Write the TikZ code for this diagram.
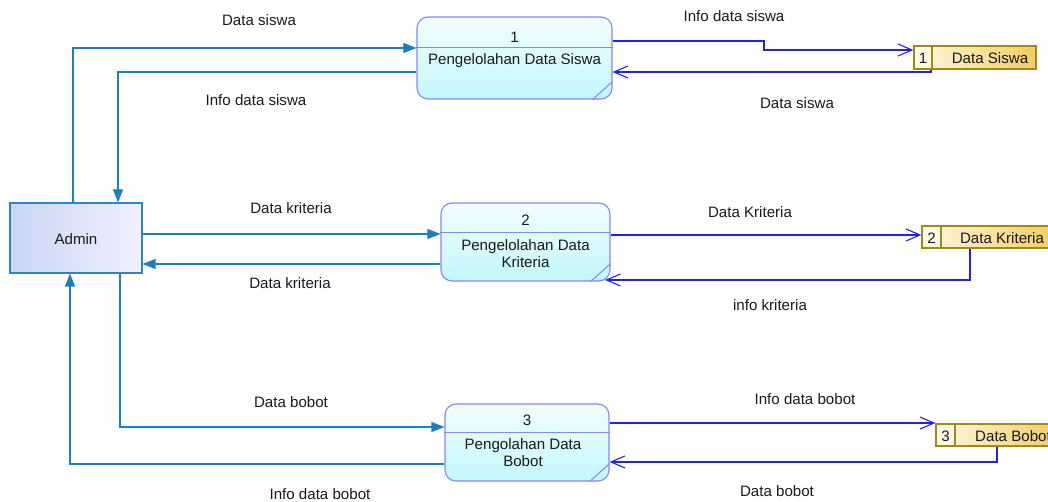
\documentclass[tikz,border=0pt]{standalone}
\usepackage{fontspec}
\setmainfont{Liberation Sans}
\usetikzlibrary{arrows.meta}
\definecolor{entline}{HTML}{2A86C8}
\definecolor{entA}{HTML}{C9D6F4}
\definecolor{entB}{HTML}{F0F0FF}
\definecolor{procline}{HTML}{8585FF}
\definecolor{procA}{HTML}{F4FEFF}
\definecolor{procB}{HTML}{C2F7FB}
\definecolor{storeline}{HTML}{A08A10}
\definecolor{storeA}{HTML}{FFF8E4}
\definecolor{storeB}{HTML}{F2CC64}
\definecolor{leftflow}{HTML}{1C7FC0}
\definecolor{rightflow}{HTML}{2222F0}
\definecolor{txt}{HTML}{1A1A1A}
\begin{document}
\begin{tikzpicture}[x=1pt,y=-1pt,
  every node/.style={font=\fontsize{15.1}{17.5}\selectfont, text=txt, inner sep=0pt},
  entity/.style={draw=entline, line width=1.1pt, left color=entA, right color=entB},
  process/.style={draw=procline, line width=1.1pt, rounded corners=11pt, top color=procA, bottom color=procB},
  procsep/.style={draw=procline, line width=1pt},
  store/.style={draw=storeline, line width=1.2pt, left color=storeA, right color=storeB},
  storenum/.style={draw=storeline, line width=1.2pt, fill=storeA},
  lflow/.style={draw=leftflow, line width=1.1pt, -{Triangle[length=13pt,width=10pt]}},
  rflow/.style={draw=rightflow, line width=1.2pt, -{Straight Barb[length=14pt,width=12pt,line width=1.1pt]}},
  flowlabel/.style={text=txt}
]
\useasboundingbox (0,0) rectangle (1048,502);
\clip (0,0) rectangle (1048,502);

% external entity
\node[entity, minimum width=132pt, minimum height=70pt] (admin) at (76,238) {};
\node (admintxt) at (76,239) {Admin};

% processes
\node[process, minimum width=195pt, minimum height=82pt] (p1) at (514.5,58) {};
\node[process, minimum width=169pt, minimum height=78pt] (p2) at (525.5,242) {};
\node[process, minimum width=164pt, minimum height=77pt] (p3) at (527,442.5) {};
\foreach \p/\d in {p1/31,p2/30,p3/29}{
  \draw[procsep] ([yshift=-\d pt]\p.north west) -- ([yshift=-\d pt]\p.north east);
  \draw[procsep] ([yshift=18pt]\p.south east) -- ([xshift=-20pt]\p.south east);
}
\node (p1num) at (514.5,37) {1};
\node (p1txt) at (514.5,61) {Pengelolahan Data Siswa};
\node (p2num) at (525.5,220) {2};
\node[align=center] (p2txt) at (525.5,253.5) {Pengelolahan Data\\Kriteria};
\node (p3num) at (527,420) {3};
\node[align=center] (p3txt) at (523,452.5) {Pengolahan Data\\Bobot};

% data stores
\node[store, minimum width=122pt, minimum height=23pt] (s1) at (975,57.5) {};
\node[storenum, minimum width=18pt, minimum height=23pt] (s1n) at (923,57.5) {};
\node (s1num) at (923,58) {1};
\node (s1txt) at (990,58) {Data Siswa};

\node[store, minimum width=132pt, minimum height=22pt] (s2) at (988,237) {};
\node[storenum, minimum width=19pt, minimum height=22pt] (s2n) at (931.5,237) {};
\node (s2num) at (931.5,238) {2};
\node (s2txt) at (1002,238) {Data Kriteria};

\node[store, minimum width=122pt, minimum height=22pt] (s3) at (997,435) {};
\node[storenum, minimum width=19pt, minimum height=22pt] (s3n) at (945.5,435) {};
\node (s3num) at (945.5,436) {3};
\node (s3txt) at (1013,436) {Data Bobot};

% flows between Admin and the processes
\draw[lflow] (73,0 |- admin.north) |- (p1.west |- 0,48);
\draw[lflow] (p1.west |- 0,72) -| (118,0 |- admin.north);
\draw[lflow] (admin.east |- 0,234) -- (p2.west |- 0,234);
\draw[lflow] (p2.west |- 0,264) -- (admin.east |- 0,264);
\draw[lflow] (120,0 |- admin.south) |- (p3.west |- 0,427);
\draw[lflow] (p3.west |- 0,464) -| (70,0 |- admin.south);

% flows between the processes and the data stores
\coordinate (p2cut) at (605,280);
\draw[rflow] (p1.east |- 0,41) -| (764,50) -- (s1n.west |- 0,50);
\draw[rflow] (931,0 |- s1.south) |- (p1.east |- 0,72);
\draw[rflow] (p2.east |- 0,235) -- (s2n.west |- 0,235);
\draw[rflow] (970,0 |- s2.south) |- (p2cut);
\draw[rflow] (p3.east |- 0,423) -- (s3n.west |- 0,423);
\draw[rflow] (997,0 |- s3.south) |- (p3.east |- 0,462);

% flow labels
\node[flowlabel] (l1) at (259,20) {Data siswa};
\node[flowlabel] (l2) at (256,100) {Info data siswa};
\node[flowlabel] (l3) at (291,208) {Data kriteria};
\node[flowlabel] (l4) at (290,283) {Data kriteria};
\node[flowlabel] (l5) at (291,402) {Data bobot};
\node[flowlabel] (l6) at (320,494) {Info data bobot};
\node[flowlabel] (r1) at (734,16) {Info data siswa};
\node[flowlabel] (r2) at (797,103) {Data siswa};
\node[flowlabel] (r3) at (750,212) {Data Kriteria};
\node[flowlabel] (r4) at (770,305) {info kriteria};
\node[flowlabel] (r5) at (805,399) {Info data bobot};
\node[flowlabel] (r6) at (777,491) {Data bobot};
\end{tikzpicture}
\end{document}
